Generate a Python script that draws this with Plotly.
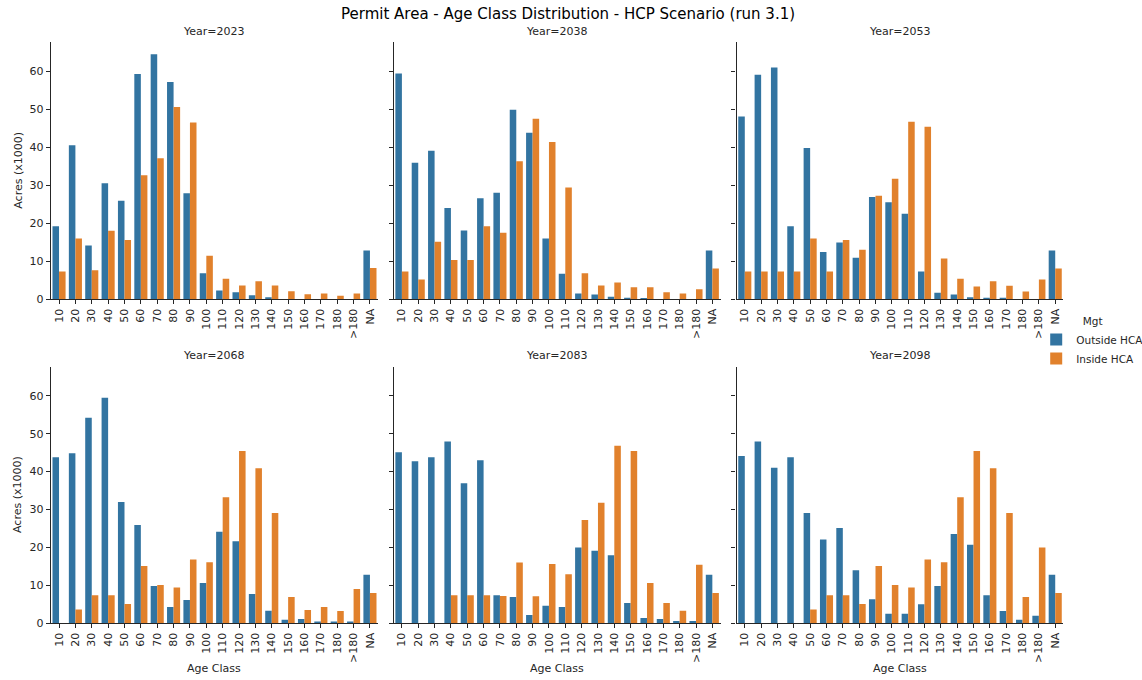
import plotly.graph_objects as go

age_classes = ["10", "20", "30", "40", "50", "60", "70", "80", "90", "100",
               "110", "120", "130", "140", "150", "160", "170", "180", ">180", "NA"]
years = [2023, 2038, 2053, 2068, 2083, 2098]
series_names = ["Outside HCA", "Inside HCA"]

outside_2023 = [19.2, 40.5, 14.1, 30.5, 25.9, 59.3, 64.5, 57.2, 27.9, 6.8,
                2.3, 1.8, 1.0, 0.5, 0.0, 0.0, 0.0, 0.0, 0.0, 12.8]
inside_2023 = [7.3, 16.0, 7.6, 18.0, 15.6, 32.6, 37.1, 50.6, 46.5, 11.4,
               5.4, 3.6, 4.7, 3.6, 2.1, 1.3, 1.5, 0.9, 1.5, 8.2]

outside_2038 = [59.4, 35.9, 39.1, 24.0, 18.1, 26.6, 28.0, 49.9, 43.8, 16.0,
                6.7, 1.5, 1.2, 0.6, 0.35, 0.3, 0.0, 0.0, 0.0, 12.8]
inside_2038 = [7.3, 5.2, 15.1, 10.3, 10.3, 19.2, 17.5, 36.3, 47.5, 41.4,
               29.4, 6.8, 3.6, 4.4, 3.1, 3.1, 1.8, 1.5, 2.6, 8.1]

outside_2053 = [48.1, 59.1, 61.0, 19.2, 39.8, 12.4, 14.9, 10.9, 26.9, 25.5,
                22.5, 7.3, 1.7, 1.2, 0.5, 0.35, 0.35, 0.0, 0.0, 12.8]
inside_2053 = [7.3, 7.3, 7.3, 7.3, 16.0, 7.3, 15.6, 13.0, 27.2, 31.7,
               46.7, 45.4, 10.7, 5.4, 3.3, 4.7, 3.5, 2.0, 5.2, 8.1]

outside_2068 = [43.8, 44.8, 54.2, 59.5, 32.0, 25.9, 9.8, 4.3, 6.1, 10.6,
                24.1, 21.6, 7.7, 3.3, 0.9, 1.1, 0.35, 0.2, 0.2, 12.8]
inside_2068 = [0.0, 3.6, 7.4, 7.4, 5.1, 15.1, 10.1, 9.4, 16.8, 16.1,
               33.2, 45.4, 40.9, 29.1, 6.9, 3.5, 4.3, 3.2, 9.0, 8.0]

outside_2083 = [45.1, 42.7, 43.8, 47.9, 36.9, 43.0, 7.4, 6.9, 2.2, 4.6,
                4.3, 20.0, 19.1, 17.9, 5.3, 1.4, 1.1, 0.6, 0.6, 12.8]
inside_2083 = [0.0, 0.0, 0.0, 7.4, 7.4, 7.4, 7.2, 16.0, 7.1, 15.6,
               12.9, 27.2, 31.8, 46.8, 45.4, 10.6, 5.3, 3.3, 15.4, 8.0]

outside_2098 = [44.1, 47.9, 41.0, 43.8, 29.1, 22.1, 25.1, 14.0, 6.3, 2.5,
                2.5, 5.0, 9.8, 23.5, 20.7, 7.4, 3.2, 0.9, 2.0, 12.8]
inside_2098 = [0.0, 0.0, 0.0, 0.0, 3.6, 7.4, 7.4, 5.1, 15.1, 10.1,
               9.4, 16.8, 16.1, 33.2, 45.4, 40.9, 29.1, 6.9, 20.0, 8.0]

outside_by_year = [outside_2023, outside_2038, outside_2053, outside_2068, outside_2083, outside_2098]
inside_by_year = [inside_2023, inside_2038, inside_2053, inside_2068, inside_2083, inside_2098]

colors = ["#3274a1", "#e1812c"]
REF_W, REF_H = 1142, 680
FIG_W, FIG_H = 1150, 688
FONT = "DejaVu Sans"
TXT = "#262626"


def px(x):
    return x / REF_W


def py(y):
    return 1 - y / REF_H


x_px = [(50.5, 375.5), (391, 715.5), (731.5, 1056)]
y_px = [(42, 298.7), (366, 622.3)]

fig = go.Figure()
annotations = []
layout_axes = {}
for i, yr in enumerate(years):
    r, c = divmod(i, 3)
    n = i + 1
    xa = "x" if n == 1 else f"x{n}"
    ya = "y" if n == 1 else f"y{n}"
    for s, (name, vals) in enumerate(zip(series_names, [outside_by_year[i], inside_by_year[i]])):
        fig.add_trace(go.Bar(
            x=age_classes, y=vals, name=name, xaxis=xa, yaxis=ya,
            marker=dict(color=colors[s], line=dict(width=0)),
            offsetgroup=str(s), showlegend=(i == 0), legendgroup=name,
        ))
    x0, x1 = x_px[c]
    yt, yb = y_px[r]
    xkey = "xaxis" if n == 1 else f"xaxis{n}"
    ykey = "yaxis" if n == 1 else f"yaxis{n}"
    layout_axes[xkey] = dict(
        domain=[px(x0), px(x1)], anchor=ya, type="category", range=[-0.5, 19.5],
        categoryorder="array", categoryarray=age_classes,
        showline=True, linecolor=TXT, linewidth=1.25, mirror=False,
        ticks="outside", ticklen=4, tickwidth=1, tickcolor=TXT,
        tickangle=-90, tickfont=dict(family=FONT, size=11, color=TXT),
        showgrid=False, zeroline=False, fixedrange=True,
    )
    layout_axes[ykey] = dict(
        domain=[py(yb), py(yt)], anchor=xa, range=[0, 67.7],
        tickvals=[0, 10, 20, 30, 40, 50, 60],
        showticklabels=(c == 0),
        showline=True, linecolor=TXT, linewidth=1.25,
        ticks="outside", ticklen=4, tickwidth=1, tickcolor=TXT,
        tickfont=dict(family=FONT, size=11, color=TXT),
        showgrid=False, zeroline=False, fixedrange=True,
    )
    annotations.append(dict(
        text=f"Year={yr}", x=px((x0 + x1) / 2), y=py(yt - 11),
        xref="paper", yref="paper", showarrow=False,
        font=dict(family=FONT, size=11, color=TXT), xanchor="center", yanchor="middle",
    ))
    if c == 0:
        annotations.append(dict(
            text="Acres (x1000)", x=px(18), y=py((yt + yb) / 2),
            xref="paper", yref="paper", showarrow=False, textangle=-90,
            font=dict(family=FONT, size=11, color=TXT), xanchor="center", yanchor="middle",
        ))
    if r == 1:
        annotations.append(dict(
            text="Age Class", x=px((x0 + x1) / 2), y=py(668),
            xref="paper", yref="paper", showarrow=False,
            font=dict(family=FONT, size=11, color=TXT), xanchor="center", yanchor="middle",
        ))

annotations.append(dict(
    text="Permit Area - Age Class Distribution - HCP Scenario (run 3.1)",
    x=px(564), y=py(14), xref="paper", yref="paper", showarrow=False,
    font=dict(family=FONT, size=15, color="#000000"), xanchor="center", yanchor="middle",
))

fig.update_layout(
    width=FIG_W, height=FIG_H, margin=dict(l=0, r=0, t=0, b=0),
    paper_bgcolor="white", plot_bgcolor="white",
    barmode="group", bargap=0.2, bargroupgap=0,
    annotations=annotations,
    legend=dict(
        title=dict(text="Mgt", font=dict(family=FONT, size=10.5, color=TXT), side="top center"),
        x=px(1029), y=py(311), xanchor="left", yanchor="top",
        font=dict(family=FONT, size=10.5, color=TXT), bgcolor="rgba(0,0,0,0)",
        itemsizing="constant", tracegroupgap=0, itemwidth=30,
    ),
    **layout_axes,
)

fig.write_html(
    "out.html",
    config={"displayModeBar": False},
    post_script=(
        "document.documentElement.style.margin='0';"
        "document.body.style.margin='0';"
        "document.body.style.overflow='hidden';"
    ),
)
